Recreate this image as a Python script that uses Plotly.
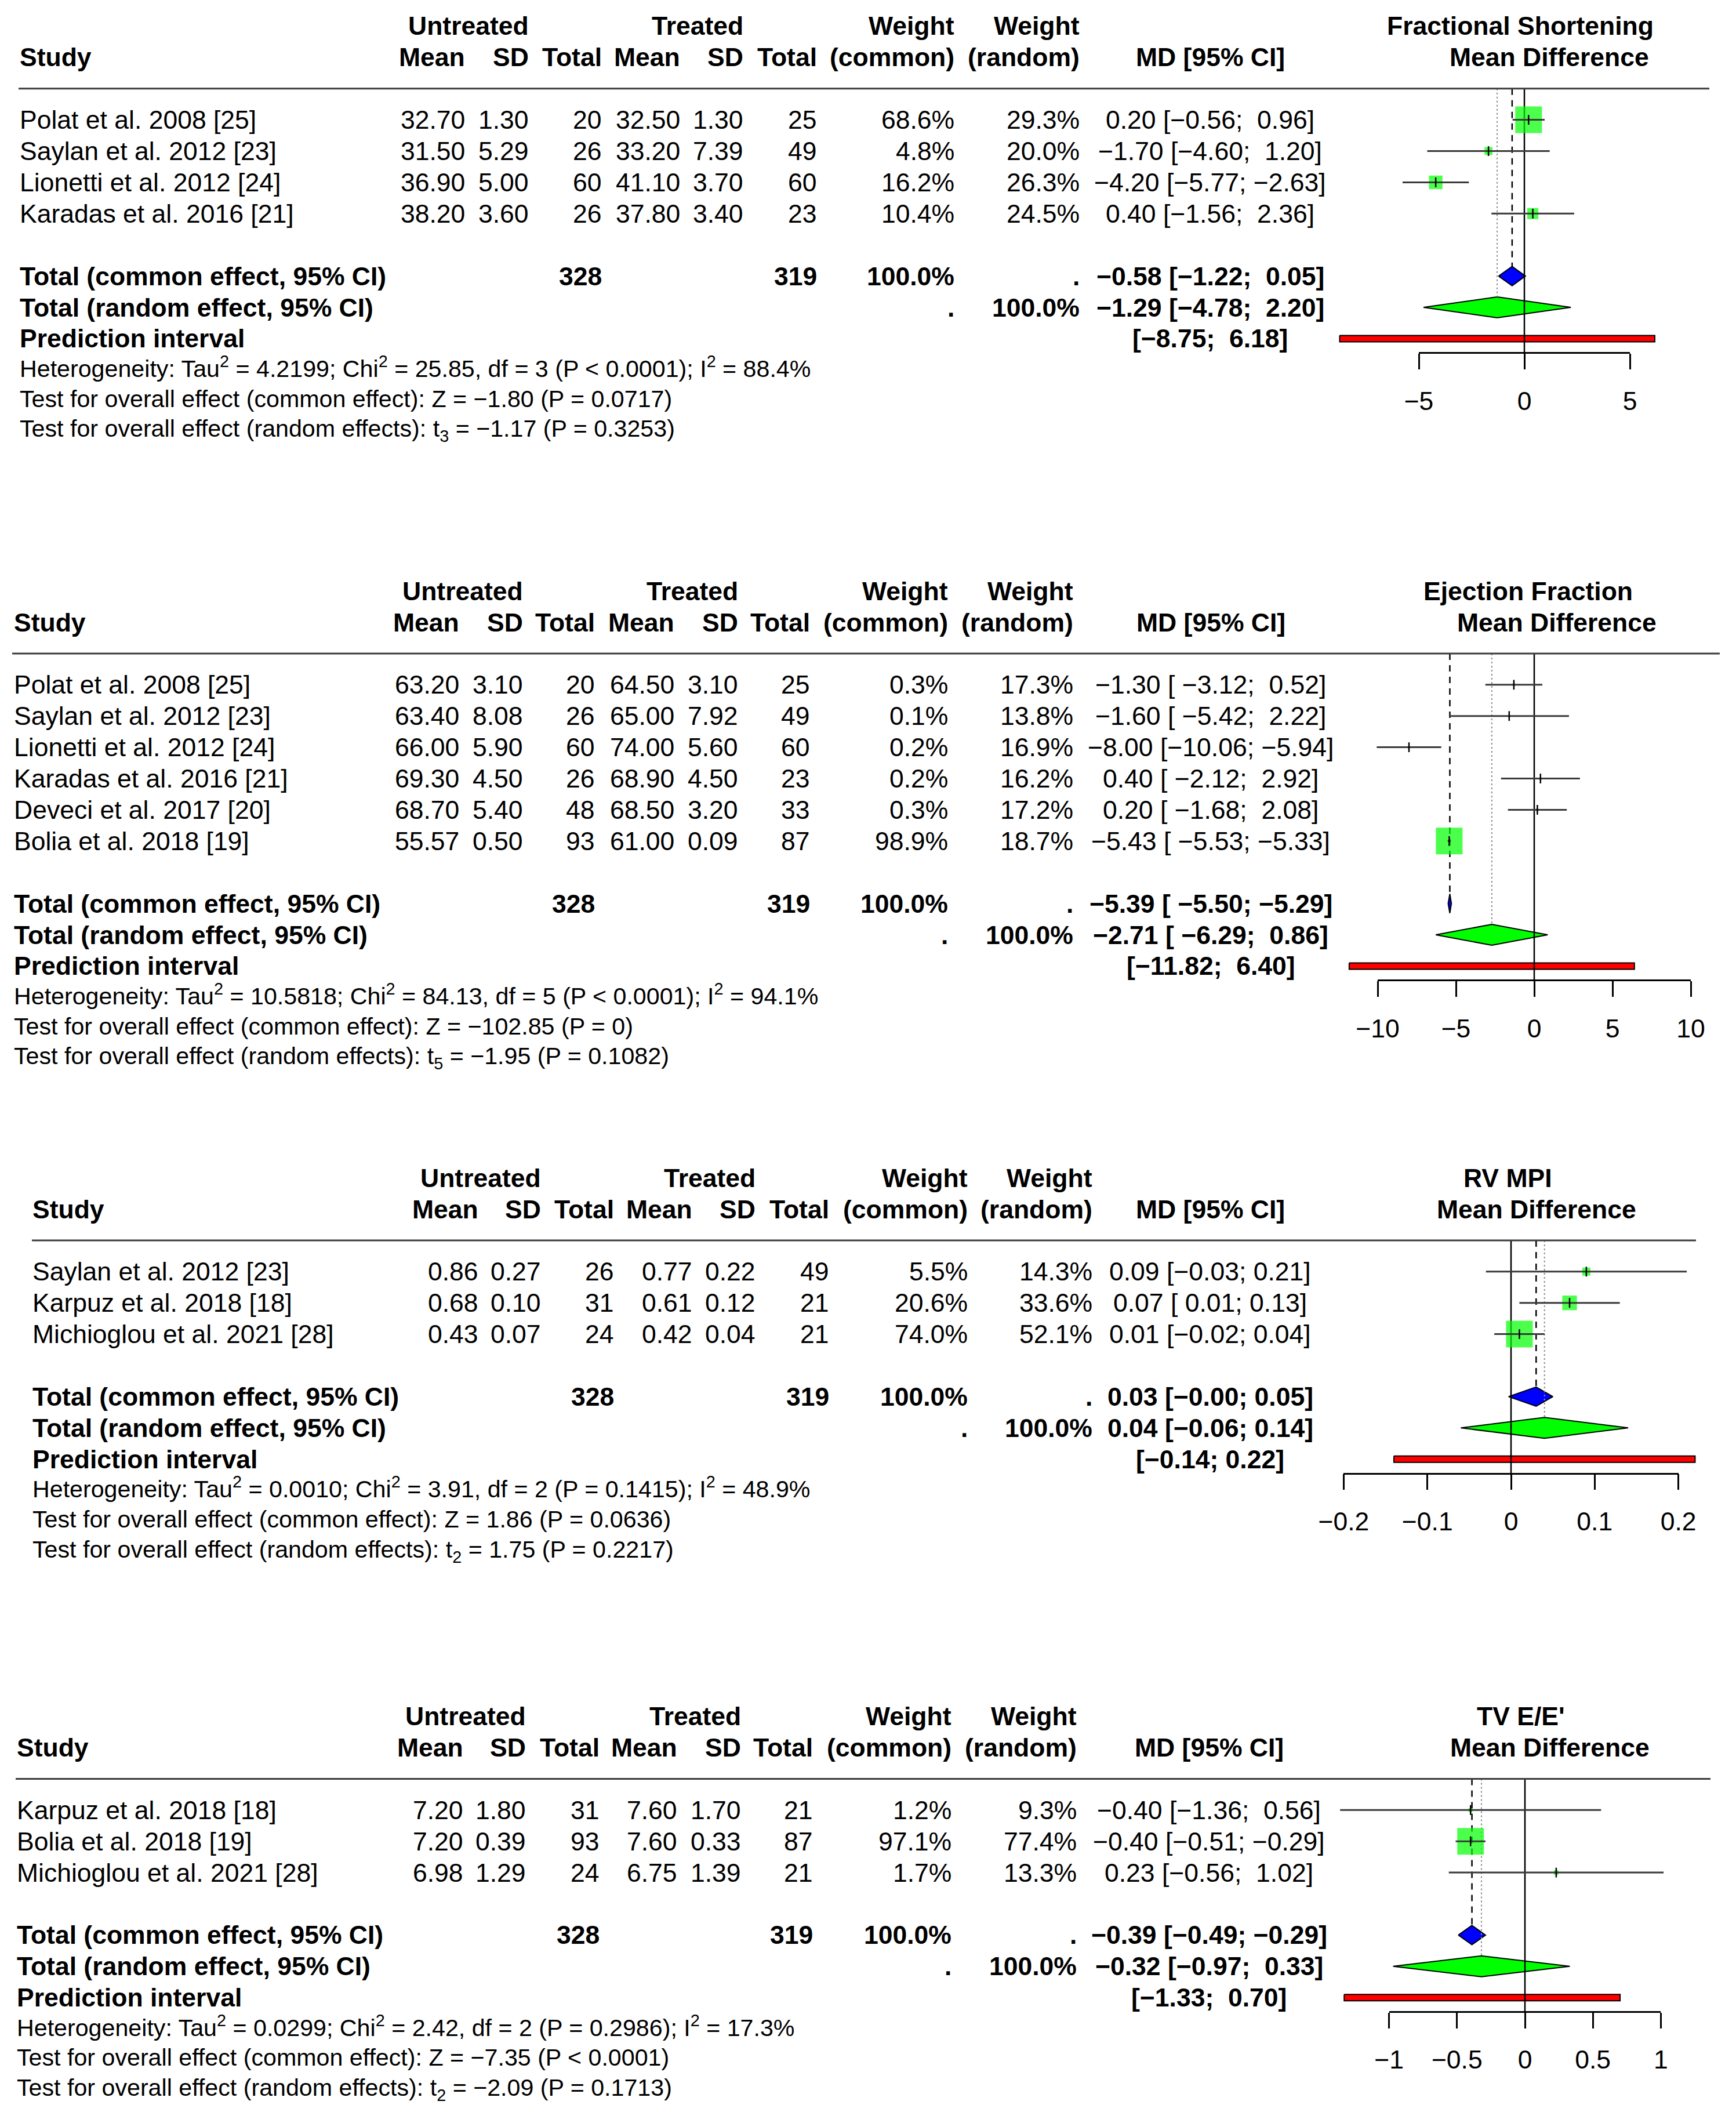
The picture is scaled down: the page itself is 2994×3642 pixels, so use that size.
import plotly.graph_objects as go

W, H = 2994, 3642
RH = 53.9          # row height (px)
RH_HET = 49.8      # row height of the heterogeneity lines (px)
FS = 44.5
FS_HET = 41.2
FONT = "Liberation Sans, Arial, Helvetica, sans-serif"
MINUS = "\u2212"
NB = "\u00a0"

# ---------------- Fractional Shortening ----------------
fs_study = ["Polat et al. 2008 [25]", "Saylan et al. 2012 [23]",
            "Lionetti et al. 2012 [24]", "Karadas et al. 2016 [21]"]
fs_mean_u = [32.70, 31.50, 36.90, 38.20]
fs_sd_u = [1.30, 5.29, 5.00, 3.60]
fs_n_u = [20, 26, 60, 26]
fs_mean_t = [32.50, 33.20, 41.10, 37.80]
fs_sd_t = [1.30, 7.39, 3.70, 3.40]
fs_n_t = [25, 49, 60, 23]
fs_w_common = [68.6, 4.8, 16.2, 10.4]
fs_w_random = [29.3, 20.0, 26.3, 24.5]
fs_md = [0.20, -1.70, -4.20, 0.40]
fs_lo = [-0.56, -4.60, -5.77, -1.56]
fs_hi = [0.96, 1.20, -2.63, 2.36]
fs_total = [328, 319]
fs_common = [-0.58, -1.22, 0.05]
fs_random = [-1.29, -4.78, 2.20]
fs_pred = [-8.75, 6.18]
fs_ticks = [-5, 0, 5]
fs_het = ["Heterogeneity: Tau<sup>2</sup> = 4.2199; Chi<sup>2</sup> = 25.85, df = 3 (P &lt; 0.0001); I<sup>2</sup> = 88.4%",
          "Test for overall effect (common effect): Z = " + MINUS + "1.80 (P = 0.0717)",
          "Test for overall effect (random effects): t<sub>3</sub> = " + MINUS + "1.17 (P = 0.3253)"]

# ---------------- Ejection Fraction ----------------
ef_study = ["Polat et al. 2008 [25]", "Saylan et al. 2012 [23]", "Lionetti et al. 2012 [24]",
            "Karadas et al. 2016 [21]", "Deveci et al. 2017 [20]", "Bolia et al. 2018 [19]"]
ef_mean_u = [63.20, 63.40, 66.00, 69.30, 68.70, 55.57]
ef_sd_u = [3.10, 8.08, 5.90, 4.50, 5.40, 0.50]
ef_n_u = [20, 26, 60, 26, 48, 93]
ef_mean_t = [64.50, 65.00, 74.00, 68.90, 68.50, 61.00]
ef_sd_t = [3.10, 7.92, 5.60, 4.50, 3.20, 0.09]
ef_n_t = [25, 49, 60, 23, 33, 87]
ef_w_common = [0.3, 0.1, 0.2, 0.2, 0.3, 98.9]
ef_w_random = [17.3, 13.8, 16.9, 16.2, 17.2, 18.7]
ef_md = [-1.30, -1.60, -8.00, 0.40, 0.20, -5.43]
ef_lo = [-3.12, -5.42, -10.06, -2.12, -1.68, -5.53]
ef_hi = [0.52, 2.22, -5.94, 2.92, 2.08, -5.33]
ef_total = [328, 319]
ef_common = [-5.39, -5.50, -5.29]
ef_random = [-2.71, -6.29, 0.86]
ef_pred = [-11.82, 6.40]
ef_ticks = [-10, -5, 0, 5, 10]
ef_het = ["Heterogeneity: Tau<sup>2</sup> = 10.5818; Chi<sup>2</sup> = 84.13, df = 5 (P &lt; 0.0001); I<sup>2</sup> = 94.1%",
          "Test for overall effect (common effect): Z = " + MINUS + "102.85 (P = 0)",
          "Test for overall effect (random effects): t<sub>5</sub> = " + MINUS + "1.95 (P = 0.1082)"]

# ---------------- RV MPI ----------------
rv_study = ["Saylan et al. 2012 [23]", "Karpuz et al. 2018 [18]", "Michioglou et al. 2021 [28]"]
rv_mean_u = [0.86, 0.68, 0.43]
rv_sd_u = [0.27, 0.10, 0.07]
rv_n_u = [26, 31, 24]
rv_mean_t = [0.77, 0.61, 0.42]
rv_sd_t = [0.22, 0.12, 0.04]
rv_n_t = [49, 21, 21]
rv_w_common = [5.5, 20.6, 74.0]
rv_w_random = [14.3, 33.6, 52.1]
rv_md = [0.09, 0.07, 0.01]
rv_lo = [-0.03, 0.01, -0.02]
rv_hi = [0.21, 0.13, 0.04]
rv_total = [328, 319]
rv_common = [0.03, -0.003, 0.05]
rv_random = [0.04, -0.06, 0.14]
rv_pred = [-0.14, 0.22]
rv_ticks = [-0.2, -0.1, 0, 0.1, 0.2]
rv_het = ["Heterogeneity: Tau<sup>2</sup> = 0.0010; Chi<sup>2</sup> = 3.91, df = 2 (P = 0.1415); I<sup>2</sup> = 48.9%",
          "Test for overall effect (common effect): Z = 1.86 (P = 0.0636)",
          "Test for overall effect (random effects): t<sub>2</sub> = 1.75 (P = 0.2217)"]

# ---------------- TV E/E' ----------------
tv_study = ["Karpuz et al. 2018 [18]", "Bolia et al. 2018 [19]", "Michioglou et al. 2021 [28]"]
tv_mean_u = [7.20, 7.20, 6.98]
tv_sd_u = [1.80, 0.39, 1.29]
tv_n_u = [31, 93, 24]
tv_mean_t = [7.60, 7.60, 6.75]
tv_sd_t = [1.70, 0.33, 1.39]
tv_n_t = [21, 87, 21]
tv_w_common = [1.2, 97.1, 1.7]
tv_w_random = [9.3, 77.4, 13.3]
tv_md = [-0.40, -0.40, 0.23]
tv_lo = [-1.36, -0.51, -0.56]
tv_hi = [0.56, -0.29, 1.02]
tv_total = [328, 319]
tv_common = [-0.39, -0.49, -0.29]
tv_random = [-0.32, -0.97, 0.33]
tv_pred = [-1.33, 0.70]
tv_ticks = [-1, -0.5, 0, 0.5, 1]
tv_het = ["Heterogeneity: Tau<sup>2</sup> = 0.0299; Chi<sup>2</sup> = 2.42, df = 2 (P = 0.2986); I<sup>2</sup> = 17.3%",
          "Test for overall effect (common effect): Z = " + MINUS + "7.35 (P &lt; 0.0001)",
          "Test for overall effect (random effects): t<sub>2</sub> = " + MINUS + "2.09 (P = 0.1713)"]

titles = ["Fractional Shortening", "Ejection Fraction", "RV MPI", "TV E/E'"]
subtitle = "Mean Difference"

# ---------------- geometry (layout only) ----------------
geo = [
    dict(base=98.8, sx=33.5, cols=[802, 912, 1038, 1173, 1282, 1409, 1646, 1862], md=2087,
         t1=2622, t2=2672, line=(32, 2948), zero=2629, scale=36.4),
    dict(base=1073, sx=24, cols=[792, 902, 1026, 1163, 1273, 1397, 1635, 1851], md=2088,
         t1=2635, t2=2685, line=(21, 2966), zero=2646, scale=27.0),
    dict(base=2085, sx=55.5, cols=[825, 933, 1059, 1194, 1303, 1430, 1669, 1884], md=2087,
         t1=2600, t2=2650, line=(55, 2925), zero=2606, scale=1443.0),
    dict(base=3013.5, sx=28.7, cols=[799, 907, 1033.5, 1167.5, 1277.5, 1402, 1641, 1857], md=2085,
         t1=2623, t2=2673, line=(27, 2950), zero=2630, scale=234.4),
]
het_shift = [5, 0, -5]   # compensate super/subscript box growth

panels = [
    dict(study=fs_study, mu=fs_mean_u, su=fs_sd_u, nu=fs_n_u, mt=fs_mean_t, st=fs_sd_t, nt=fs_n_t,
         wc=fs_w_common, wr=fs_w_random, md=fs_md, lo=fs_lo, hi=fs_hi, tot=fs_total,
         com=fs_common, ran=fs_random, pred=fs_pred, ticks=fs_ticks, het=fs_het),
    dict(study=ef_study, mu=ef_mean_u, su=ef_sd_u, nu=ef_n_u, mt=ef_mean_t, st=ef_sd_t, nt=ef_n_t,
         wc=ef_w_common, wr=ef_w_random, md=ef_md, lo=ef_lo, hi=ef_hi, tot=ef_total,
         com=ef_common, ran=ef_random, pred=ef_pred, ticks=ef_ticks, het=ef_het),
    dict(study=rv_study, mu=rv_mean_u, su=rv_sd_u, nu=rv_n_u, mt=rv_mean_t, st=rv_sd_t, nt=rv_n_t,
         wc=rv_w_common, wr=rv_w_random, md=rv_md, lo=rv_lo, hi=rv_hi, tot=rv_total,
         com=rv_common, ran=rv_random, pred=rv_pred, ticks=rv_ticks, het=rv_het),
    dict(study=tv_study, mu=tv_mean_u, su=tv_sd_u, nu=tv_n_u, mt=tv_mean_t, st=tv_sd_t, nt=tv_n_t,
         wc=tv_w_common, wr=tv_w_random, md=tv_md, lo=tv_lo, hi=tv_hi, tot=tv_total,
         com=tv_common, ran=tv_random, pred=tv_pred, ticks=tv_ticks, het=tv_het),
]


def fmt(v, nd=2):
    return f"{v:.{nd}f}".replace("-", MINUS)


def padded(vals):
    s = [fmt(v) for v in vals]
    w = max(len(x) for x in s)
    return [x.rjust(w, NB) for x in s]


fig = go.Figure()
annotations = []
shapes = []
layout_axes = {}

layout_axes["xaxis"] = dict(range=[0, W], domain=[0, 1], visible=False, fixedrange=True,
                            automargin=False)


def add_text(x, yref, y, text, anchor="right", bold=False, size=FS, yshift=0):
    if bold:
        text = "<b>" + text + "</b>"
    annotations.append(dict(x=x, y=y, xref="x", yref=yref, text=text, showarrow=False,
                            xanchor=anchor, yanchor="middle", borderpad=0, borderwidth=0,
                            yshift=yshift,
                            font=dict(family=FONT, size=size, color="black")))


for i, (p, g) in enumerate(zip(panels, geo)):
    yname = "y" if i == 0 else f"y{i + 1}"
    ylay = "yaxis" if i == 0 else f"yaxis{i + 1}"
    xf = f"x{i + 2}"
    xd = f"x{i + 6}"
    base = g["base"]
    layout_axes[ylay] = dict(range=[(H - base) / RH, -base / RH], domain=[0, 1], visible=False,
                             fixedrange=True, automargin=False)
    z, s = g["zero"], g["scale"]
    layout_axes[f"xaxis{i + 2}"] = dict(range=[-z / s, (W - z) / s], domain=[0, 1], visible=False,
                                        fixedrange=True, anchor=yname, automargin=False)

    n = len(p["study"])
    k_common = n + 3
    k_random = n + 4
    k_pred = n + 5
    k_axis = k_pred + 24.5 / RH
    c = g["cols"]

    # ---- header rows ----
    add_text(c[1], yname, -1, "Untreated", bold=True)
    add_text(c[4], yname, -1, "Treated", bold=True)
    add_text(c[6], yname, -1, "Weight", bold=True)
    add_text(c[7], yname, -1, "Weight", bold=True)
    add_text(g["t1"], yname, -1, titles[i], anchor="center", bold=True)
    add_text(g["sx"], yname, 0, "Study", anchor="left", bold=True)
    for x, lab in zip(c, ["Mean", "SD", "Total", "Mean", "SD", "Total", "(common)", "(random)"]):
        add_text(x, yname, 0, lab, bold=True)
    add_text(g["md"], yname, 0, "MD [95% CI]", anchor="center", bold=True)
    add_text(g["t2"], yname, 0, subtitle, anchor="center", bold=True)
    shapes.append(dict(type="line", xref="x", yref=yname, x0=g["line"][0], x1=g["line"][1],
                       y0=1, y1=1, line=dict(color="#3c3c3c", width=3)))

    # ---- CI strings ----
    lows = padded(p["lo"] + [p["com"][1], p["ran"][1], p["pred"][0]])
    highs = padded(p["hi"] + [p["com"][2], p["ran"][2], p["pred"][1]])

    # ---- study rows ----
    for j in range(n):
        k = j + 2
        add_text(g["sx"], yname, k, p["study"][j], anchor="left")
        add_text(c[0], yname, k, fmt(p["mu"][j]))
        add_text(c[1], yname, k, fmt(p["su"][j]))
        add_text(c[2], yname, k, str(p["nu"][j]))
        add_text(c[3], yname, k, fmt(p["mt"][j]))
        add_text(c[4], yname, k, fmt(p["st"][j]))
        add_text(c[5], yname, k, str(p["nt"][j]))
        add_text(c[6], yname, k, f"{p['wc'][j]:.1f}%")
        add_text(c[7], yname, k, f"{p['wr'][j]:.1f}%")
        add_text(g["md"], yname, k, f"{fmt(p['md'][j])}{NB}[{lows[j]};{NB}{highs[j]}]", anchor="center")

    # ---- summary rows ----
    add_text(g["sx"], yname, k_common, "Total (common effect, 95% CI)", anchor="left", bold=True)
    add_text(c[2], yname, k_common, str(p["tot"][0]), bold=True)
    add_text(c[5], yname, k_common, str(p["tot"][1]), bold=True)
    add_text(c[6], yname, k_common, "100.0%", bold=True)
    add_text(c[7], yname, k_common, ".", bold=True)
    add_text(g["md"], yname, k_common,
             f"{fmt(p['com'][0])}{NB}[{lows[n]};{NB}{highs[n]}]", anchor="center", bold=True)
    add_text(g["sx"], yname, k_random, "Total (random effect, 95% CI)", anchor="left", bold=True)
    add_text(c[6], yname, k_random, ".", bold=True)
    add_text(c[7], yname, k_random, "100.0%", bold=True)
    add_text(g["md"], yname, k_random,
             f"{fmt(p['ran'][0])}{NB}[{lows[n + 1]};{NB}{highs[n + 1]}]", anchor="center", bold=True)
    add_text(g["sx"], yname, k_pred, "Prediction interval", anchor="left", bold=True)
    add_text(g["md"], yname, k_pred, f"[{lows[n + 2]};{NB}{highs[n + 2]}]", anchor="center", bold=True)

    # ---- heterogeneity ----
    for h, txt in enumerate(p["het"]):
        add_text(g["sx"], yname, k_pred + 1 + h * RH_HET / RH, txt, anchor="left", size=FS_HET,
                 yshift=het_shift[h])

    # ---- forest elements ----
    hd_c = 16.6 / RH
    hd_r = 18.0 / RH
    hp = 5.5 / RH
    # prediction interval bar
    fig.add_trace(go.Scatter(
        x=[p["pred"][0], p["pred"][1], p["pred"][1], p["pred"][0], p["pred"][0]],
        y=[k_pred - hp, k_pred - hp, k_pred + hp, k_pred + hp, k_pred - hp],
        xaxis=xf, yaxis=yname, mode="lines", fill="toself", fillcolor="#ff0000",
        line=dict(color="black", width=2), hoverinfo="skip", showlegend=False))
    # random diamond
    r0, rl, rh_ = p["ran"]
    fig.add_trace(go.Scatter(
        x=[rl, r0, rh_, r0, rl], y=[k_random, k_random - hd_r, k_random, k_random + hd_r, k_random],
        xaxis=xf, yaxis=yname, mode="lines", fill="toself", fillcolor="#00ff00",
        line=dict(color="black", width=2), hoverinfo="skip", showlegend=False))
    # common diamond
    c0, cl, ch = p["com"]
    fig.add_trace(go.Scatter(
        x=[cl, c0, ch, c0, cl], y=[k_common, k_common - hd_c, k_common, k_common + hd_c, k_common],
        xaxis=xf, yaxis=yname, mode="lines", fill="toself", fillcolor="#0000ff",
        line=dict(color="black", width=2), hoverinfo="skip", showlegend=False))
    # reference line at 0
    fig.add_trace(go.Scatter(x=[0, 0], y=[1, k_axis], xaxis=xf, yaxis=yname, mode="lines",
                             line=dict(color="black", width=2.5), hoverinfo="skip", showlegend=False))
    # common effect (dashed) and random effect (dotted) lines
    fig.add_trace(go.Scatter(x=[c0, c0], y=[1, k_common - hd_c], xaxis=xf, yaxis=yname, mode="lines",
                             line=dict(color="black", width=2.5, dash="11px,9px"),
                             hoverinfo="skip", showlegend=False))
    fig.add_trace(go.Scatter(x=[r0, r0], y=[1, k_random - hd_r], xaxis=xf, yaxis=yname, mode="lines",
                             line=dict(color="#8c8c8c", width=2, dash="3px,4px"),
                             hoverinfo="skip", showlegend=False))
    # study squares
    wmax = max(p["wc"])
    ks = [j + 2 for j in range(n)]
    fig.add_trace(go.Scatter(
        x=p["md"], y=ks, xaxis=xf, yaxis=yname, mode="markers",
        marker=dict(symbol="square", color="#00ff00",
                    size=[44 * (w / wmax) ** 0.5 + 2 for w in p["wc"]], line=dict(width=0)),
        hoverinfo="skip", showlegend=False))
    # CI lines
    cx, cy = [], []
    for j in range(n):
        cx += [p["lo"][j], p["hi"][j], None]
        cy += [ks[j], ks[j], None]
    fig.add_trace(go.Scatter(x=cx, y=cy, xaxis=xf, yaxis=yname, mode="lines",
                             line=dict(color="#3a3a3a", width=3), hoverinfo="skip", showlegend=False))
    # estimate ticks
    fig.add_trace(go.Scatter(
        x=p["md"], y=ks, xaxis=xf, yaxis=yname, mode="markers",
        marker=dict(symbol="line-ns-open", size=12, color="black", line=dict(width=2.5)),
        hoverinfo="skip", showlegend=False))

    # ---- visible axis ----
    tmin, tmax = min(p["ticks"]), max(p["ticks"])
    axis_px = base + k_axis * RH
    layout_axes[f"xaxis{i + 6}"] = dict(
        domain=[(z + s * tmin) / W, (z + s * tmax) / W], range=[tmin, tmax],
        anchor="free", position=1 - axis_px / H, side="bottom", automargin=False,
        tickvals=p["ticks"], ticks="outside", ticklen=27, tickwidth=2.5, tickcolor="black",
        showline=True, linewidth=2.5, linecolor="black", showgrid=False, zeroline=False,
        tickfont=dict(family=FONT, size=FS, color="black"), ticklabelstandoff=16, fixedrange=True)
    fig.add_trace(go.Scatter(x=[tmin], y=[0], xaxis=xd, yaxis=yname, mode="markers",
                             marker=dict(opacity=0), hoverinfo="skip", showlegend=False))

fig.update_layout(
    template="none",
    width=W, height=H, margin=dict(l=0, r=0, t=0, b=0, pad=0, autoexpand=False),
    paper_bgcolor="white", plot_bgcolor="rgba(0,0,0,0)",
    showlegend=False, annotations=annotations, shapes=shapes,
    font=dict(family=FONT, size=FS, color="black"),
    **layout_axes)

fig.write_html("out.html", config={"displayModeBar": False},
               post_script="document.body.style.margin='0';")
